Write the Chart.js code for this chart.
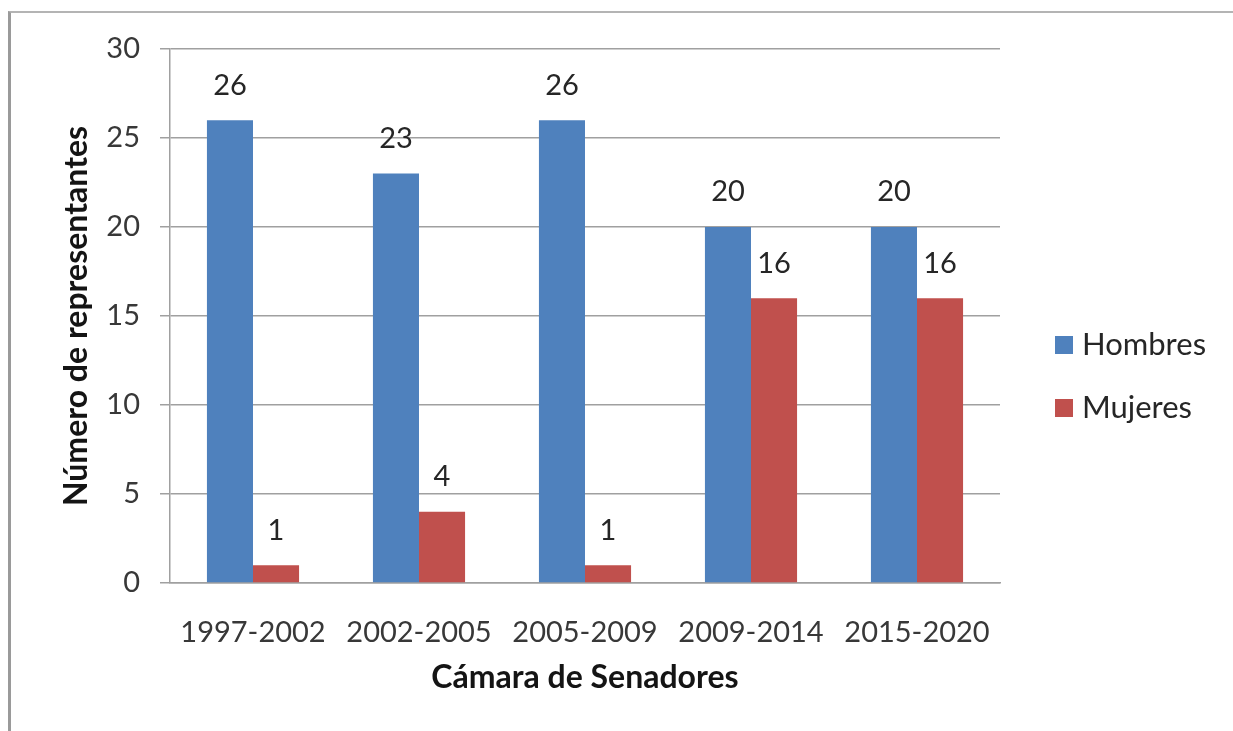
<!DOCTYPE html>
<html>
<head>
<meta charset="utf-8">
<script src="https://cdn.jsdelivr.net/npm/chart.js@4.4.1/dist/chart.umd.min.js"></script>
<style>
  html, body { margin: 0; padding: 0; background: #fff; }
  #wrap { position: relative; width: 1233px; height: 731px; }
  #frame {
    position: absolute; left: 8px; top: 11px; right: 0; bottom: 0;
    border-top: 2px solid #b4b4b4; border-left: 3px solid #9a9a9a;
    pointer-events: none;
  }
  canvas { position: absolute; left: 0; top: 0; }
</style>
</head>
<body>
<div id="wrap">
  <canvas id="senadoChart" width="1233" height="731"></canvas>
  <div id="frame"></div>
</div>
<script>
// ===== data =====
const periodos = ["1997-2002", "2002-2005", "2005-2009", "2009-2014", "2015-2020"];
const hombres = [26, 23, 26, 20, 20];
const mujeres = [1, 4, 1, 16, 16];
const yTicks = [0, 5, 10, 15, 20, 25, 30];

const FONT = "Lato, 'Open Sans', sans-serif";
const TEXT = "#383838";

// value labels over each bar
const barLabels = {
  id: "barLabels",
  afterDatasetsDraw(chart) {
    const ctx = chart.ctx;
    ctx.save();
    ctx.font = "29px " + FONT;
    ctx.fillStyle = "#262626";
    ctx.textAlign = "center";
    ctx.textBaseline = "middle";
    chart.data.datasets.forEach((ds, i) => {
      chart.getDatasetMeta(i).data.forEach((bar, j) => {
        ctx.fillText(ds.data[j], bar.x, bar.y - 35);
      });
    });
    ctx.restore();
  }
};

// legend on the right, Excel style
const sideLegend = {
  id: "sideLegend",
  afterDraw(chart) {
    const ctx = chart.ctx;
    ctx.save();
    ctx.font = "31px " + FONT;
    ctx.textBaseline = "middle";
    ctx.textAlign = "left";
    chart.data.datasets.forEach((ds, i) => {
      const y = 345 + i * 63;
      ctx.fillStyle = ds.backgroundColor;
      ctx.fillRect(1055, y - 9, 18, 18);
      ctx.fillStyle = "#262626";
      ctx.fillText(ds.label, 1082, y);
    });
    ctx.restore();
  }
};

new Chart(document.getElementById("senadoChart").getContext("2d"), {
  type: "bar",
  data: {
    labels: periodos,
    datasets: [
      { label: "Hombres", data: hombres, backgroundColor: "#4F81BD", categoryPercentage: 0.555, barPercentage: 1 },
      { label: "Mujeres", data: mujeres, backgroundColor: "#C0504D", categoryPercentage: 0.555, barPercentage: 1 }
    ]
  },
  options: {
    responsive: false,
    animation: false,
    layout: { padding: { top: 49, right: 233, bottom: 20, left: 40 } },
    plugins: {
      legend: { display: false },
      tooltip: { enabled: false }
    },
    scales: {
      x: {
        grid: { display: false },
        border: { display: true, color: "#a0a0a0", width: 1.5 },
        ticks: { color: TEXT, font: { family: FONT, size: 29 }, padding: 24, maxRotation: 0 },
        title: {
          display: true, text: "Cámara de Senadores", color: "#141414",
          font: { family: FONT, size: 32, weight: "bold" }, padding: { top: 0, bottom: 14 }
        },
        afterFit(s) { s.height = 128; }
      },
      y: {
        min: 0, max: 30,
        afterBuildTicks(s) { s.ticks = yTicks.map(v => ({ value: v })); },
        grid: { color: "#a0a0a0", lineWidth: 1.5, drawTicks: true, tickLength: 10 },
        border: { display: true, color: "#a0a0a0", width: 1.5 },
        ticks: { color: TEXT, font: { family: FONT, size: 29 }, padding: 20 },
        title: {
          display: true, text: "Número de representantes", color: "#141414",
          font: { family: FONT, size: 32, weight: "bold" }, padding: { top: 17, bottom: 0 }
        },
        afterFit(s) { s.width = 130; }
      }
    }
  },
  plugins: [barLabels, sideLegend]
});
</script>
</body>
</html>
